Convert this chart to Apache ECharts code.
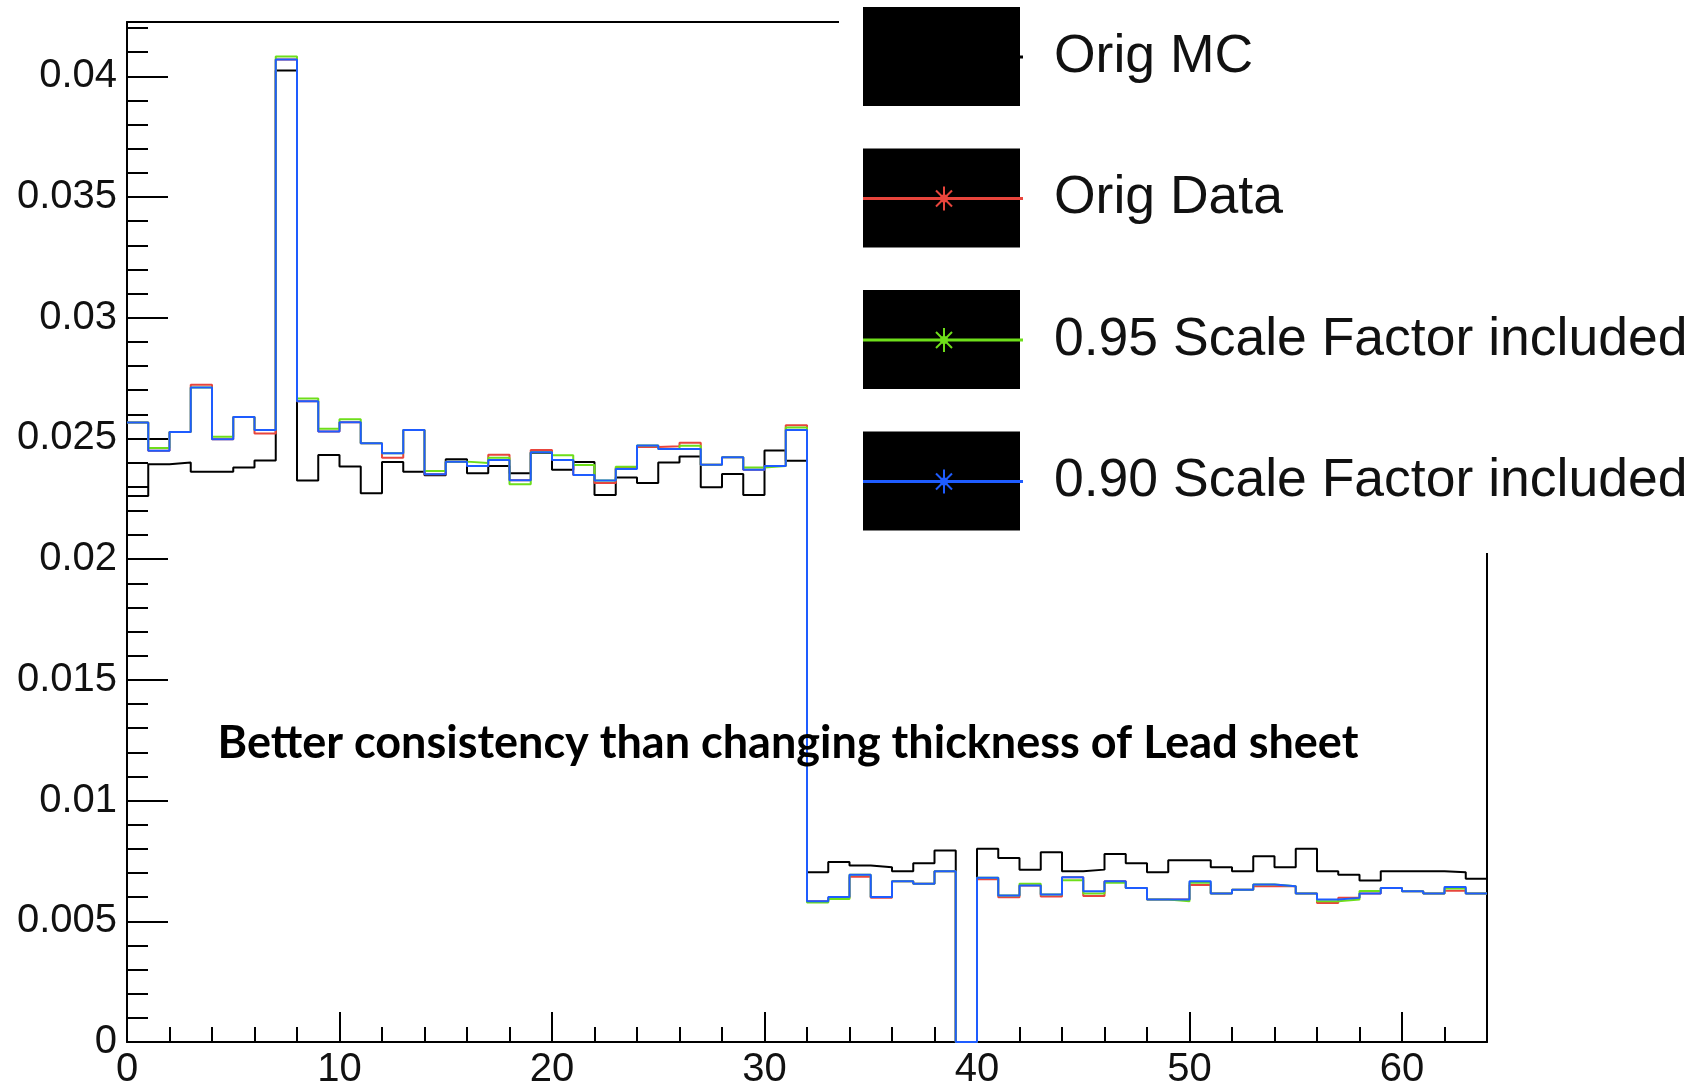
<!DOCTYPE html>
<html>
<head>
<meta charset="utf-8">
<script src="https://cdn.jsdelivr.net/npm/echarts@6/dist/echarts.min.js"></script>
<style>
  html, body { margin: 0; padding: 0; background: #fff; }
  #chart { width: 1708px; height: 1087px; }
</style>
</head>
<body>
<div id="chart"></div>
<script>
const binEdges = [
  0, 1, 2, 3, 4, 5, 6, 7, 8, 9, 10, 11, 12, 13, 14, 15,
  16, 17, 18, 19, 20, 21, 22, 23, 24, 25, 26, 27, 28, 29, 30, 31,
  32, 33, 34, 35, 36, 37, 38, 39, 40, 41, 42, 43, 44, 45, 46, 47,
  48, 49, 50, 51, 52, 53, 54, 55, 56, 57, 58, 59, 60, 61, 62, 63, 64
]

const origMC = [
  0.02262, 0.02393, 0.02400, 0.02362, 0.02362, 0.02380, 0.02409, 0.04024,
  0.02326, 0.02431, 0.02384, 0.02273, 0.02402, 0.02362, 0.02348, 0.02414,
  0.02356, 0.02386, 0.02356, 0.02441, 0.02370, 0.02402, 0.02266, 0.02338,
  0.02315, 0.02400, 0.02425, 0.02298, 0.02353, 0.02266, 0.02450, 0.02408,
  0.00703, 0.00746, 0.00731, 0.00724, 0.00707, 0.00740, 0.00793, 0,
  0.00800, 0.00762, 0.00714, 0.00786, 0.00707, 0.00714, 0.00779, 0.00740,
  0.00703, 0.00753, 0.00753, 0.00724, 0.00707, 0.00769, 0.00724, 0.00800,
  0.00707, 0.00693, 0.00669, 0.00707, 0.00707, 0.00707, 0.00703, 0.00676
]

const origData = [
  0.02566, 0.02449, 0.02527, 0.02722, 0.02497, 0.02589, 0.02520, 0.04070,
  0.02654, 0.02529, 0.02567, 0.02480, 0.02420, 0.02535, 0.02352, 0.02404,
  0.02386, 0.02432, 0.02327, 0.02452, 0.02411, 0.02349, 0.02315, 0.02378,
  0.02465, 0.02468, 0.02482, 0.02391, 0.02422, 0.02370, 0.02386, 0.02555,
  0.00583, 0.00598, 0.00684, 0.00597, 0.00666, 0.00655, 0.00707, 0,
  0.00674, 0.00600, 0.00648, 0.00603, 0.00682, 0.00605, 0.00666, 0.00638,
  0.00590, 0.00590, 0.00650, 0.00615, 0.00631, 0.00645, 0.00645, 0.00615,
  0.00576, 0.00597, 0.00615, 0.00638, 0.00624, 0.00615, 0.00627, 0.00615
]

const scale095 = [
  0.02566, 0.02460, 0.02527, 0.02711, 0.02507, 0.02589, 0.02535, 0.04082,
  0.02665, 0.02540, 0.02580, 0.02480, 0.02439, 0.02535, 0.02365, 0.02404,
  0.02398, 0.02420, 0.02310, 0.02443, 0.02430, 0.02390, 0.02326, 0.02383,
  0.02471, 0.02456, 0.02470, 0.02391, 0.02422, 0.02380, 0.02386, 0.02545,
  0.00578, 0.00592, 0.00693, 0.00601, 0.00666, 0.00655, 0.00707, 0,
  0.00680, 0.00607, 0.00655, 0.00611, 0.00670, 0.00615, 0.00660, 0.00638,
  0.00590, 0.00583, 0.00660, 0.00615, 0.00631, 0.00652, 0.00645, 0.00615,
  0.00583, 0.00590, 0.00625, 0.00638, 0.00624, 0.00615, 0.00636, 0.00615
]

const scale090 = [
  0.02566, 0.02449, 0.02527, 0.02711, 0.02497, 0.02589, 0.02535, 0.04070,
  0.02654, 0.02529, 0.02567, 0.02480, 0.02439, 0.02535, 0.02352, 0.02404,
  0.02386, 0.02411, 0.02327, 0.02443, 0.02411, 0.02349, 0.02326, 0.02373,
  0.02471, 0.02456, 0.02456, 0.02391, 0.02422, 0.02370, 0.02386, 0.02535,
  0.00583, 0.00601, 0.00693, 0.00601, 0.00666, 0.00655, 0.00707, 0,
  0.00680, 0.00607, 0.00648, 0.00611, 0.00682, 0.00624, 0.00666, 0.00638,
  0.00590, 0.00590, 0.00666, 0.00615, 0.00631, 0.00652, 0.00645, 0.00615,
  0.00590, 0.00597, 0.00615, 0.00638, 0.00624, 0.00615, 0.00642, 0.00615
]

const legendNames = ['Orig MC', 'Orig Data', '0.95 Scale Factor included', '0.90 Scale Factor included']
const colors = ['#000000', '#e8453c', '#6ede1a', '#1e5cff']
const note = 'Better consistency than changing thickness of Lead sheet'

const xMin = 0
const xMax = 64
const yMin = 0
const yMax = 0.04225

const chart = echarts.init(document.getElementById('chart'))

// histogram outline: one point per bin edge, last bin repeated at the right edge
const histPoints = (vals) => binEdges.map((x, i) => [x, vals[Math.min(i, vals.length - 1)]])

const makeSeries = (name, vals, color) => ({
  name,
  type: 'line',
  step: 'end',
  data: histPoints(vals),
  symbol: 'none',
  silent: true,
  lineStyle: { color, width: 2 },
  itemStyle: { color }
})

const frameLine = { show: true, onZero: false, lineStyle: { color: '#000', width: 2 } }
const tickStyle = { color: '#000', width: 2 }
const labelFont = { fontSize: 40, fontFamily: 'Liberation Sans', color: '#111' }

// legend drawn as plain graphics on a white pad
const legendGraphics = [
  {
    type: 'rect',
    z: 100,
    shape: { x: 839, y: 0, width: 869, height: 553 },
    style: { fill: '#fff' }
  }
]
legendNames.forEach((name, i) => {
  const top = 7 + i * 141.5
  const cy = top + 50
  const cx = 944
  const color = colors[i]
  legendGraphics.push({
    type: 'rect', z: 101,
    shape: { x: 863, y: top, width: 157, height: 99 },
    style: { fill: '#000' }
  })
  legendGraphics.push({
    type: 'line', z: 102,
    shape: { x1: 863, y1: cy, x2: 1023, y2: cy },
    style: { stroke: color, lineWidth: 3 }
  })
  if (i > 0) {
    const spokes = [[0, -12, 0, 12], [-10, 0, 10, 0], [-8, -8, 8, 8], [-8, 8, 8, -8]]
    spokes.forEach(s => {
      legendGraphics.push({
        type: 'line', z: 103,
        shape: { x1: cx + s[0], y1: cy + s[1], x2: cx + s[2], y2: cy + s[3] },
        style: { stroke: color, lineWidth: 2 }
      })
    })
    legendGraphics.push({
      type: 'circle', z: 103,
      shape: { cx, cy, r: 4 },
      style: { fill: color }
    })
  }
  legendGraphics.push({
    type: 'text', z: 103,
    x: 1054, y: cy,
    style: {
      text: name,
      font: '53.5px "Liberation Sans"',
      fill: '#111',
      textVerticalAlign: 'middle'
    }
  })
})

const option = {
  animation: false,
  backgroundColor: '#fff',
  grid: {
    left: 127,
    top: 22,
    right: 221,
    bottom: 45,
    containLabel: false,
    outerBoundsMode: 'none'
  },
  xAxis: [
    {
      type: 'value', min: xMin, max: xMax, interval: 10, position: 'bottom',
      axisLine: frameLine,
      axisTick: { show: true, inside: true, length: 30, lineStyle: tickStyle },
      axisLabel: { ...labelFont, margin: 8, showMaxLabel: false },
      splitLine: { show: false }
    },
    {
      type: 'value', min: xMin, max: xMax, interval: 2, position: 'bottom',
      axisLine: { show: false },
      axisTick: { show: true, inside: true, length: 15, lineStyle: tickStyle },
      axisLabel: { show: false },
      splitLine: { show: false }
    },
    {
      type: 'value', min: xMin, max: xMax, position: 'top',
      axisLine: frameLine,
      axisTick: { show: false },
      axisLabel: { show: false },
      splitLine: { show: false }
    }
  ],
  yAxis: [
    {
      type: 'value', min: yMin, max: yMax, interval: 0.005, position: 'left',
      axisLine: frameLine,
      axisTick: { show: true, inside: true, length: 41, lineStyle: tickStyle },
      axisLabel: { ...labelFont, margin: 10, showMaxLabel: false },
      splitLine: { show: false }
    },
    {
      type: 'value', min: yMin, max: yMax, interval: 0.001, position: 'left',
      axisLine: { show: false },
      axisTick: { show: true, inside: true, length: 21, lineStyle: tickStyle },
      axisLabel: { show: false },
      splitLine: { show: false }
    },
    {
      type: 'value', min: yMin, max: yMax, position: 'right',
      axisLine: frameLine,
      axisTick: { show: false },
      axisLabel: { show: false },
      splitLine: { show: false }
    }
  ],
  series: [
    makeSeries(legendNames[0], origMC, colors[0]),
    makeSeries(legendNames[1], origData, colors[1]),
    makeSeries(legendNames[2], scale095, colors[2]),
    makeSeries(legendNames[3], scale090, colors[3])
  ],
  graphic: [
    ...legendGraphics,
    {
      type: 'text', z: 110,
      x: 788, y: 743,
      style: {
        text: note,
        font: 'bold 45px Lato',
        fill: '#000',
        textAlign: 'center',
        textVerticalAlign: 'middle'
      }
    }
  ]
}

chart.setOption(option)
</script>
</body>
</html>
